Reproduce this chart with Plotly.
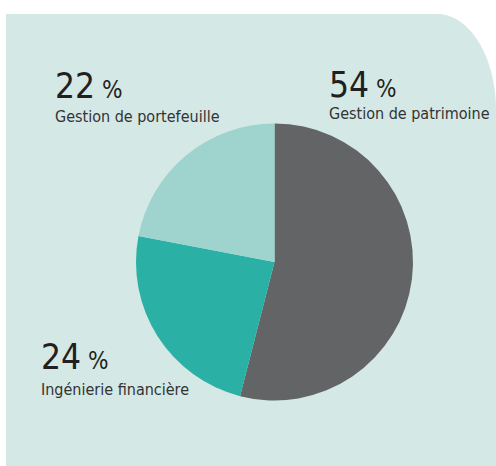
import plotly.graph_objects as go

labels = ["Gestion de patrimoine", "Ingénierie financière", "Gestion de portefeuille"]
values = [54, 24, 22]
colors = ["#636466", "#2ab0a5", "#9fd3cd"]

W, H = 496, 466

def px(x):
    return x / W

def py(y):
    return 1 - y / H

fig = go.Figure()
fig.add_trace(go.Pie(
    labels=labels, values=values, sort=False, direction="clockwise", rotation=0,
    marker=dict(colors=colors, line=dict(width=0)),
    textinfo="none", hoverinfo="label+percent", showlegend=False,
    domain=dict(x=[px(274.5 - 138.5), px(274.5 + 138.5)], y=[py(262 + 138.5), py(262 - 138.5)]),
))

k = 0.5523
rx, ry = 59, 96
cx, cy = 437, 14 + ry
path = (f"M {px(6)} {py(466)} L {px(6)} {py(14)} L {px(cx)} {py(14)} "
        f"C {px(cx + k*rx)} {py(14)} {px(496)} {py(cy - k*ry)} {px(496)} {py(cy)} "
        f"L {px(496)} {py(466)} Z")
fig.add_shape(type="path", path=path, xref="paper", yref="paper",
              fillcolor="#d4e8e6", line=dict(width=0), layer="below")

FONT = "DejaVu Sans Condensed, Liberation Sans Narrow, sans-serif"
TXT = "#231f20"
TXT2 = "#333333"

# (value, label, x, top of number, top of label)
placements = [
    (values[2], labels[2], 55, 64, 105),
    (values[0], labels[0], 329, 63, 102),
    (values[1], labels[1], 41, 335, 378),
]
for v, lab, x, ytop_num, ytop_lab in placements:
    fig.add_annotation(
        text=f"{v}<span style='font-size:24px'> %</span>",
        x=px(x), y=py(ytop_num), xref="paper", yref="paper",
        xanchor="left", yanchor="top", showarrow=False,
        font=dict(family=FONT, size=35, color=TXT), xshift=-2,
    )
    fig.add_annotation(
        text=lab, x=px(x), y=py(ytop_lab), xref="paper", yref="paper",
        xanchor="left", yanchor="top", showarrow=False,
        font=dict(family=FONT, size=16, color=TXT2), xshift=-2,
    )

fig.update_layout(
    width=W, height=H, margin=dict(l=0, r=0, t=0, b=0),
    paper_bgcolor="white", plot_bgcolor="white",
)
fig.write_html("out.html", config={"displayModeBar": False},
               post_script="document.body.style.margin='0';")
